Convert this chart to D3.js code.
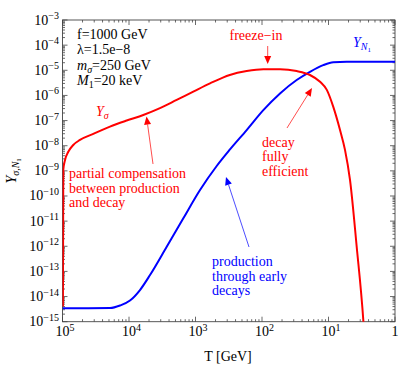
<!DOCTYPE html>
<html>
<head>
<meta charset="utf-8">
<script src="https://cdn.jsdelivr.net/npm/d3@7"></script>
<style>
  body { margin: 0; background: #fff; }
</style>
</head>
<body>
<div id="chart"></div>
<script>
// Size of the picture
const width = 400;
const height = 366;
const serif = "'Liberation Serif', 'Times New Roman', serif";
const fs = 14; // main font size

// Plot box
const plotLeft = 62.5, plotRight = 395, plotTop = 20, plotBottom = 321.7;

// Data: temperature T [GeV] and yields
const sigmaT = [98500, 97700, 97270, 91620, 81850, 68870, 54580, 34430, 19320, 10840,
  6095, 3420, 1919, 1079, 605, 305, 170, 95.5, 53.6, 30.1, 19.0, 13.4, 10.6, 8.47, 6.71, 5.65,
  4.75, 3.77, 3.0, 2.82];
const sigmaY = [4.0e-15, 3.0e-11, 1.08e-9, 2.7e-9, 5.75e-9, 1.07e-8, 1.7e-8, 2.95e-8, 5.75e-8, 1.0e-7,
  1.66e-7, 3.1e-7, 6.6e-7, 1.41e-6, 3.0e-6, 6.5e-6, 9.3e-6, 1.1e-5, 1.1e-5, 9.3e-6, 6.5e-6, 3.5e-6, 1.66e-6, 3.5e-7, 4.2e-8, 6.8e-9,
  4.4e-10, 9.8e-13, 1.2e-15, 1e-16];

const nT = [100000, 19300, 13650, 9660, 6840, 4830, 2710, 1524, 855, 480, 303, 170,
  95.5, 53.6, 30.1, 19.0, 12.0, 8.47, 5.32, 1];
const nY = [3.4e-15, 3.5e-15, 4.4e-15, 6.97e-15, 1.82e-14, 7.2e-14, 9.6e-13, 1.3e-11, 1.73e-10, 1.56e-9, 7.1e-9, 4.2e-8,
  2.6e-7, 1.2e-6, 4.1e-6, 8.7e-6, 1.6e-5, 2.1e-5, 2.2e-5, 2.2e-5];

// Tick labels
const xTickValues = [1e5, 1e4, 1e3, 1e2, 1e1, 1];
const xTickExp = ["5", "4", "3", "2", "1", null];
const yTickExp = [-3, -4, -5, -6, -7, -8, -9, -10, -11, -12, -13, -14, -15];

const paramLines = ["f=1000 GeV", "λ=1.5e−8", "m_σ=250 GeV", "M_1=20 keV"];

const red = "#ff0000";
const blue = "#0000ff";

const svg = d3.select("#chart")
  .append("svg")
  .attr("width", width)
  .attr("height", height)
  .attr("font-family", serif);

const x = d3.scaleLog().domain([1e5, 1]).range([plotLeft, plotRight]);
const y = d3.scaleLog().domain([1e-15, 1e-3]).range([plotBottom, plotTop]);

// Clip curves to the plot box
svg.append("clipPath").attr("id", "clip")
  .append("rect")
  .attr("x", plotLeft).attr("y", plotTop)
  .attr("width", plotRight - plotLeft).attr("height", plotBottom - plotTop);

// Ticks (inward on all four sides)
const xMajor = xTickValues;
const xMinor = [];
for (let n = 1; n <= 5; n++) for (let k = 2; k <= 9; k++) xMinor.push(Math.pow(10, n) / k);
const yMajor = yTickExp.map(e => Math.pow(10, e));
const yMinor = [];
for (let n = -15; n <= -4; n++) for (let k = 2; k <= 9; k++) yMinor.push(k * Math.pow(10, n));

const tickG = svg.append("g").attr("stroke", "#444").attr("stroke-width", 0.8);
function xTicks(vals, len) {
  vals.forEach(v => {
    const px = x(v);
    tickG.append("line").attr("x1", px).attr("x2", px).attr("y1", plotBottom).attr("y2", plotBottom - len);
    tickG.append("line").attr("x1", px).attr("x2", px).attr("y1", plotTop).attr("y2", plotTop + len);
  });
}
function yTicks(vals, len) {
  vals.forEach(v => {
    const py = y(v);
    tickG.append("line").attr("y1", py).attr("y2", py).attr("x1", plotLeft).attr("x2", plotLeft + len);
    tickG.append("line").attr("y1", py).attr("y2", py).attr("x1", plotRight).attr("x2", plotRight - len);
  });
}
xTicks(xMajor, 5);
xTicks(xMinor, 2.5);
yTicks(yMajor, 5);
yTicks(yMinor, 2.5);

// Frame
svg.append("rect")
  .attr("x", plotLeft).attr("y", plotTop)
  .attr("width", plotRight - plotLeft).attr("height", plotBottom - plotTop)
  .attr("fill", "none").attr("stroke", "#444").attr("stroke-width", 0.9);

// Tick labels
const xLab = svg.append("g").attr("font-size", fs).attr("fill", "#000");
xTickValues.forEach((v, i) => {
  if (xTickExp[i]) {
    const t = xLab.append("text").attr("x", x(v) - 7).attr("y", 336);
    t.append("tspan").text("10");
    t.append("tspan").attr("dy", -5.5).attr("font-size", 10).text(xTickExp[i]);
  } else {
    xLab.append("text").attr("x", x(v)).attr("y", 336).attr("text-anchor", "middle").text("1");
  }
});

const yLab = svg.append("g").attr("font-size", fs).attr("fill", "#000");
yTickExp.forEach(e => {
  const t = yLab.append("text")
    .attr("x", 59)
    .attr("y", y(Math.pow(10, e)) + 4.5)
    .attr("text-anchor", "end");
  t.append("tspan").text("10");
  t.append("tspan").attr("dy", -5.5).attr("font-size", 10).text("−" + Math.abs(e));
});

// Axis titles
svg.append("text")
  .attr("x", 228).attr("y", 361)
  .attr("text-anchor", "middle")
  .attr("font-size", fs)
  .text("T [GeV]");

const yt = svg.append("text")
  .attr("transform", `translate(16,${(plotTop + plotBottom) / 2}) rotate(-90)`)
  .attr("text-anchor", "middle")
  .attr("font-size", fs);
yt.append("tspan").attr("font-style", "italic").text("Y");
yt.append("tspan").attr("dy", 3).attr("font-size", 10).attr("font-style", "italic").text("σ,N");
yt.append("tspan").attr("dy", 2).attr("font-size", 7).text("1");

// Curves
const line = d3.line()
  .x(d => x(d[0]))
  .y(d => y(d[1]))
  .curve(d3.curveMonotoneX);

const curves = svg.append("g").attr("clip-path", "url(#clip)");
curves.append("path")
  .datum(nT.map((t, i) => [t, nY[i]]))
  .attr("d", line)
  .attr("fill", "none").attr("stroke", blue).attr("stroke-width", 2);
curves.append("path")
  .datum(sigmaT.map((t, i) => [t, sigmaY[i]]))
  .attr("d", line)
  .attr("fill", "none").attr("stroke", red).attr("stroke-width", 2);

// Parameter block
const params = svg.append("g").attr("font-size", fs).attr("fill", "#000");
paramLines.forEach((s, i) => {
  const t = params.append("text").attr("x", 77).attr("y", 39 + i * 15.4);
  if (s.includes("_")) {
    const [a, rest] = s.split("_");
    const sub = rest[0];
    t.append("tspan").attr("font-style", "italic").text(a);
    t.append("tspan").attr("dy", 3).attr("font-size", 10)
      .attr("font-style", sub === "σ" ? "italic" : "normal").text(sub);
    t.append("tspan").attr("dy", -3).text(rest.slice(1));
  } else {
    t.text(s);
  }
});

// Annotations
function arrow(x1, y1, x2, y2, color) {
  const ang = Math.atan2(y2 - y1, x2 - x1);
  const L = 8, w = 3.5;
  const bx = x2 - L * Math.cos(ang), by = y2 - L * Math.sin(ang);
  svg.append("line")
    .attr("x1", x1).attr("y1", y1).attr("x2", bx).attr("y2", by)
    .attr("stroke", color).attr("stroke-width", 0.7);
  svg.append("path")
    .attr("d", `M${x2},${y2}L${bx - w * Math.sin(ang)},${by + w * Math.cos(ang)}L${bx + w * Math.sin(ang)},${by - w * Math.cos(ang)}Z`)
    .attr("fill", color);
}

function textLines(lines, x0, y0, dy, color) {
  lines.forEach((s, i) => {
    svg.append("text").attr("x", x0).attr("y", y0 + i * dy)
      .attr("font-size", fs).attr("fill", color).text(s);
  });
}

// freeze-in
svg.append("text").attr("x", 256).attr("y", 40).attr("text-anchor", "middle")
  .attr("font-size", fs).attr("fill", red).text("freeze−in");
arrow(267.7, 46, 267.7, 64, red);

// Y_sigma label
const ys = svg.append("text").attr("x", 96).attr("y", 116).attr("font-size", fs).attr("fill", red);
ys.append("tspan").attr("font-style", "italic").text("Y");
ys.append("tspan").attr("dy", 3).attr("font-size", 10).attr("font-style", "italic").text("σ");

// Y_N1 label
const yn = svg.append("text").attr("x", 353).attr("y", 47).attr("font-size", fs).attr("fill", blue);
yn.append("tspan").attr("font-style", "italic").text("Y");
yn.append("tspan").attr("dy", 3).attr("font-size", 10).attr("font-style", "italic").text("N");
yn.append("tspan").attr("dy", 2).attr("font-size", 7).text("1");

// decay fully efficient
textLines(["decay", "fully", "efficient"], 262, 146.5, 14.6, red);
arrow(287, 128, 312, 88, red);

// partial compensation
textLines(["partial compensation", "between production", "and decay"], 69, 178, 14.5, red);
arrow(153, 164, 146.5, 116.5, red);

// production through early decays
textLines(["production", "through early", "decays"], 212, 266, 14.6, blue);
arrow(249, 247, 226, 177, blue);
</script>
</body>
</html>
